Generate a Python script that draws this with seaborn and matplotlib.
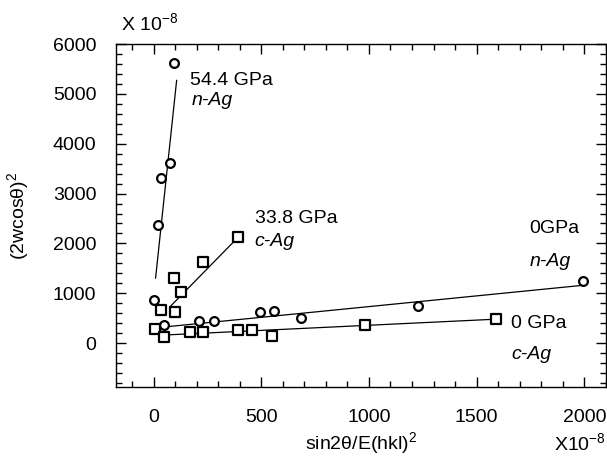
import matplotlib
matplotlib.use("Agg")
import matplotlib.pyplot as plt
import seaborn as sns
import pandas as pd
from matplotlib.ticker import MultipleLocator

# ---- data (units of 1e-8) ----
n54_x = [93, 74, 32, 19, 0]
n54_y = [5620, 3610, 3310, 2370, 870]
n54_fit_x = [9, 107]
n54_fit_y = [1300, 5275]

c33_x = [394, 228, 129, 93, 101, 36]
c33_y = [2130, 1620, 1020, 1300, 620, 660]
c33_fit_x = [74, 394]
c33_fit_y = [720, 2130]

n0_x = [46, 209, 279, 496, 561, 686, 1226, 1995]
n0_y = [360, 440, 440, 620, 640, 500, 740, 1240]
n0_fit_x = [42, 1995]
n0_fit_y = [320, 1160]

c0_x = [5, 46, 167, 228, 394, 455, 548, 984, 1592]
c0_y = [280, 120, 220, 220, 260, 260, 140, 360, 480]
c0_fit_x = [42, 1592]
c0_fit_y = [160, 480]

x_ticks = [0, 500, 1000, 1500, 2000]
y_ticks = [0, 1000, 2000, 3000, 4000, 5000, 6000]

sns.set_style("ticks")
plt.rcParams['font.family'] = ['Liberation Sans', 'DejaVu Sans']
plt.rcParams['mathtext.fontset'] = 'custom'
plt.rcParams['mathtext.rm'] = 'Liberation Sans'
plt.rcParams['mathtext.it'] = 'Liberation Sans:italic'
plt.rcParams['text.color'] = 'black'
plt.rcParams['axes.labelcolor'] = 'black'
plt.rcParams['xtick.color'] = 'black'
plt.rcParams['ytick.color'] = 'black'

fig = plt.figure(figsize=(6.07, 4.59), dpi=100)
ax = fig.add_axes([0.191, 0.157, 0.807, 0.747])

FS = 14
circ = dict(marker='o', s=40, facecolor='white', edgecolor='black', linewidth=1.6, zorder=3)
sq = dict(marker='s', s=58, facecolor='white', edgecolor='black', linewidth=1.6, zorder=3)

for fx, fy in [(n54_fit_x, n54_fit_y), (c33_fit_x, c33_fit_y), (n0_fit_x, n0_fit_y), (c0_fit_x, c0_fit_y)]:
    sns.lineplot(x=fx, y=fy, ax=ax, color='black', linewidth=0.9, zorder=2)

sns.scatterplot(x=n54_x, y=n54_y, ax=ax, **circ)
sns.scatterplot(x=n0_x, y=n0_y, ax=ax, **circ)
sns.scatterplot(x=c33_x, y=c33_y, ax=ax, **sq)
sns.scatterplot(x=c0_x, y=c0_y, ax=ax, **sq)

ax.set_xlim(-175, 2100)
ax.set_ylim(-880, 6000)
ax.set_xticks(x_ticks)
ax.set_yticks(y_ticks)
ax.xaxis.set_minor_locator(MultipleLocator(100))
ax.yaxis.set_minor_locator(MultipleLocator(200))
ax.tick_params(which='both', direction='in', top=True, right=True, width=1, colors='black',
               labelsize=FS)
ax.tick_params(which='major', length=7)
ax.tick_params(which='minor', length=4)
ax.tick_params(axis='x', which='major', pad=16)
ax.tick_params(axis='y', which='major', pad=14)
ax.tick_params(axis='y', which='both', labelright=False)
ax.tick_params(axis='x', which='both', labeltop=False)
for s in ax.spines.values():
    s.set_linewidth(1.0)
    s.set_color('black')

ax.set_xlabel(r'sin2θ/E(hkl)$^2$', fontsize=FS, labelpad=3)
ax.set_ylabel(r'(2wcosθ)$^2$', fontsize=FS, labelpad=16)

fig.text(0.200, 0.950, r'X 10$^{-8}$', fontsize=FS, ha='left', va='center')
fig.text(0.998, 0.035, r'X10$^{-8}$', fontsize=FS, ha='right', va='center')

ax.text(167, 5260, '54.4 GPa', fontsize=FS, va='center')
ax.text(176, 4870, 'n-Ag', fontsize=FS, va='center', style='italic')
ax.text(469, 2490, '33.8 GPa', fontsize=FS, va='center')
ax.text(469, 2030, 'c-Ag', fontsize=FS, va='center', style='italic')
ax.text(1745, 2300, '0GPa', fontsize=FS, va='center')
ax.text(1745, 1630, 'n-Ag', fontsize=FS, va='center', style='italic')
ax.text(1661, 390, '0 GPa', fontsize=FS, va='center')
ax.text(1661, -230, 'c-Ag', fontsize=FS, va='center', style='italic')

fig.savefig('out.png', dpi=100)
